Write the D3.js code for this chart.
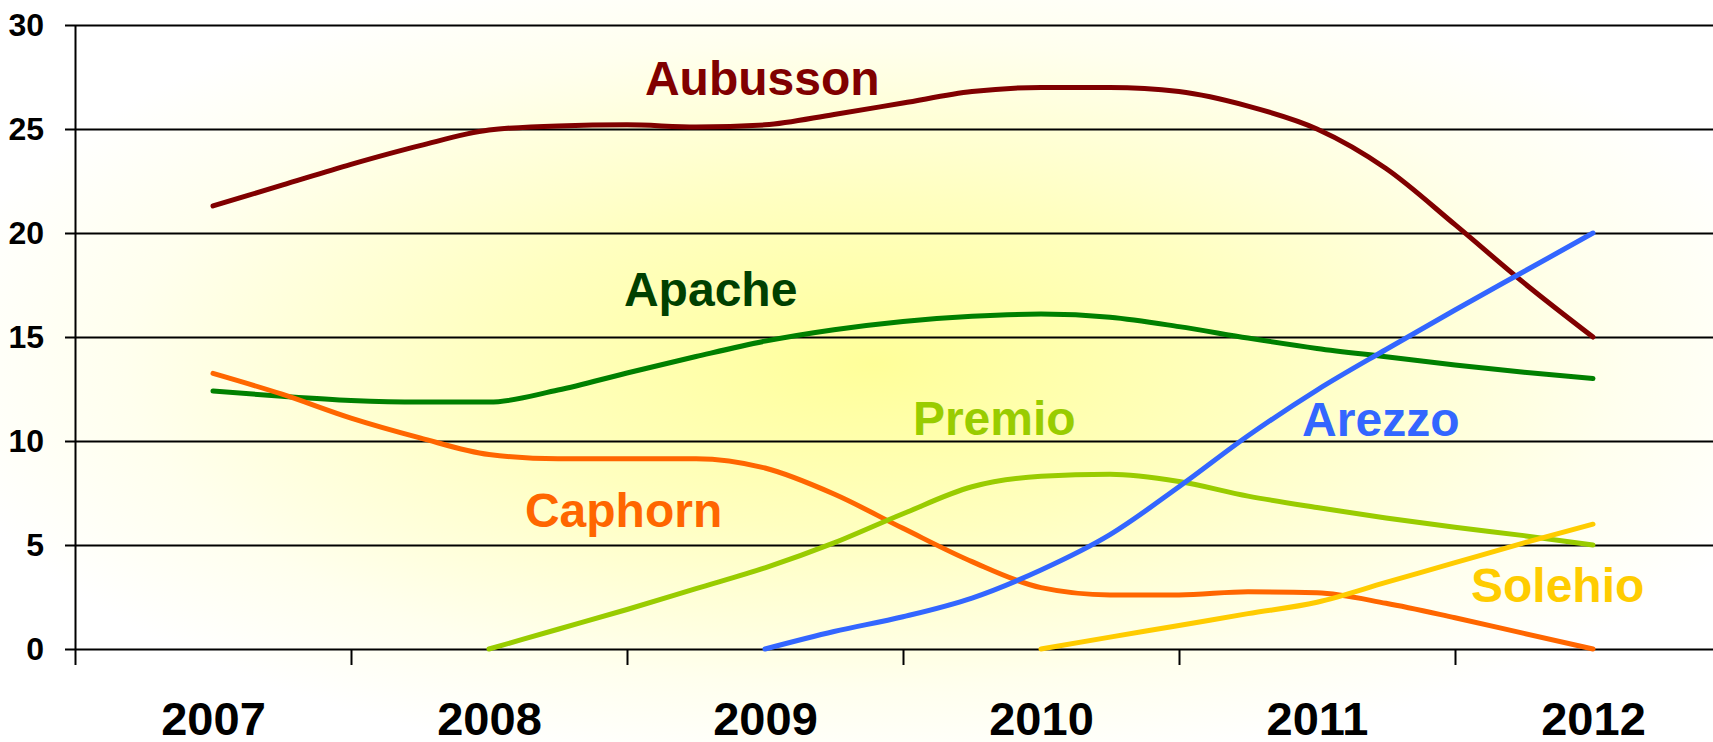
<!DOCTYPE html>
<html>
<head>
<meta charset="utf-8">
<script src="https://cdn.jsdelivr.net/npm/d3@7"></script>
<style>
   body { margin: 0; background: #fff; }
   svg { display: block; font-family: "Liberation Sans", Arial, sans-serif; font-weight: bold; }
</style>
</head>
<body>
<svg width="1713" height="742"></svg>
<script>
// quarterly values, 2007 .. 2012 (21 points), null = not on sale yet
const years = [2007, 2008, 2009, 2010, 2011, 2012];
const yTicks = [0, 5, 10, 15, 20, 25, 30];

const aubusson = [21.3, 22.3, 23.3, 24.2, 24.95, 25.15, 25.2, 25.1, 25.2, 25.7, 26.25, 26.8, 27.0, 27.0, 26.8, 26.1, 25.0, 23.1, 20.4, 17.6, 15.0];
const apache = [12.4, 12.15, 11.95, 11.87, 11.87, 12.45, 13.27, 14.06, 14.8, 15.35, 15.75, 16.0, 16.1, 15.95, 15.5, 14.95, 14.45, 14.05, 13.65, 13.3, 13.0];
const caphorn = [13.25, 12.25, 11.1, 10.15, 9.35, 9.15, 9.15, 9.15, 8.7, 7.45, 5.8, 4.2, 2.95, 2.6, 2.6, 2.75, 2.7, 2.2, 1.5, 0.75, 0];
const premio = [null, null, null, null, 0, 0.95, 1.9, 2.9, 3.9, 5.1, 6.5, 7.8, 8.3, 8.4, 8.05, 7.35, 6.8, 6.3, 5.85, 5.45, 5.0];
const arezzo = [null, null, null, null, null, null, null, null, 0, 0.84, 1.55, 2.45, 3.8, 5.5, 7.8, 10.25, 12.45, 14.4, 16.3, 18.15, 20.0];
const solehio = [null, null, null, null, null, null, null, null, null, null, null, null, 0, 0.57, 1.13, 1.7, 2.25, 3.2, 4.15, 5.1, 6.0];

const series = [
   { name: "Aubusson", values: aubusson, color: "#800000", text: "#800000" },
   { name: "Apache", values: apache, color: "#008000", text: "#004000" },
   { name: "Caphorn", values: caphorn, color: "#FF6600", text: "#FF6600" },
   { name: "Premio", values: premio, color: "#99CC00", text: "#99CC00" },
   { name: "Arezzo", values: arezzo, color: "#3366FF", text: "#3366FF" },
   { name: "Solehio", values: solehio, color: "#FFCC00", text: "#FFCC00" }
];

// where the names sit, in data units (year, value) of the left edge / baseline
const labelPos = {
   Aubusson: [2008.565, 26.63],
   Apache: [2008.489, 16.49],
   Caphorn: [2008.13, 5.87],
   Premio: [2009.536, 10.29],
   Arezzo: [2010.946, 10.24],
   Solehio: [2011.558, 2.26]
};

const svg = d3.select("svg"),
   width = +svg.attr("width"),
   height = +svg.attr("height");

const plotLeft = 75, plotTop = 25, plotBottom = 649;
const yearW = 276;

var x = d3.scaleLinear().domain([2006.5, 2012.5]).range([plotLeft, plotLeft + 6 * yearW]),
   y = d3.scaleLinear().domain([0, 30]).range([plotBottom, plotTop]);

// background: yellow glow from the middle
const defs = svg.append("defs");
const grad = defs.append("radialGradient").attr("id", "glow")
   .attr("cx", 0.51).attr("cy", 0.49).attr("r", 0.56);
grad.append("stop").attr("offset", 0).attr("stop-color", "#FFFF9A");
grad.append("stop").attr("offset", 0.4).attr("stop-color", "#FFFFC0");
grad.append("stop").attr("offset", 0.78).attr("stop-color", "#FFFFEE");
grad.append("stop").attr("offset", 1).attr("stop-color", "#FFFFFF");

svg.append("rect").attr("width", width).attr("height", height).attr("fill", "url(#glow)");

// y axis + grid
const gy = svg.append("g").attr("transform", "translate(" + plotLeft + ",0)")
   .call(d3.axisLeft(y).tickValues(yTicks).tickSizeOuter(0).tickPadding(25));
gy.selectAll(".tick line").attr("x1", -10).attr("x2", width).attr("stroke", "#000").attr("stroke-width", 2);
gy.select(".domain").attr("stroke", "#000").attr("stroke-width", 2);
gy.selectAll(".tick text").attr("font-size", 32).attr("font-family", "Liberation Sans, Arial").attr("fill", "#000");

// x axis: ticks between years
const gx = svg.append("g").attr("transform", "translate(0," + plotBottom + ")")
   .call(d3.axisBottom(x).tickValues(d3.range(2006.5, 2013, 1)).tickSize(16).tickSizeOuter(0).tickFormat(""));
gx.select(".domain").remove();
gx.selectAll(".tick line").attr("stroke", "#000").attr("stroke-width", 2);

const gl = svg.append("g").attr("transform", "translate(0," + plotBottom + ")")
   .call(d3.axisBottom(x).tickValues(years).tickSize(0).tickFormat(d3.format("d")));
gl.select(".domain").remove();
gl.selectAll(".tick text").attr("y", 86).attr("dy", 0)
   .attr("font-size", 47).attr("font-family", "Liberation Sans, Arial").attr("fill", "#000");

// series lines
const line = d3.line()
   .defined(d => d.v != null)
   .x(d => x(d.t))
   .y(d => y(d.v))
   .curve(d3.curveMonotoneX);

svg.append("g").selectAll("path")
   .data(series)
   .enter().append("path")
   .attr("fill", "none")
   .attr("stroke", d => d.color)
   .attr("stroke-width", 5)
   .attr("stroke-linecap", "round")
   .attr("stroke-linejoin", "round")
   .attr("d", d => line(d.values.map((v, i) => ({ t: 2007 + i / 4, v: v }))));

svg.append("g").selectAll("text")
   .data(series)
   .enter().append("text")
   .attr("x", d => x(labelPos[d.name][0]))
   .attr("y", d => y(labelPos[d.name][1]))
   .attr("font-size", 48)
   .attr("fill", d => d.text)
   .text(d => d.name);
</script>
</body>
</html>
